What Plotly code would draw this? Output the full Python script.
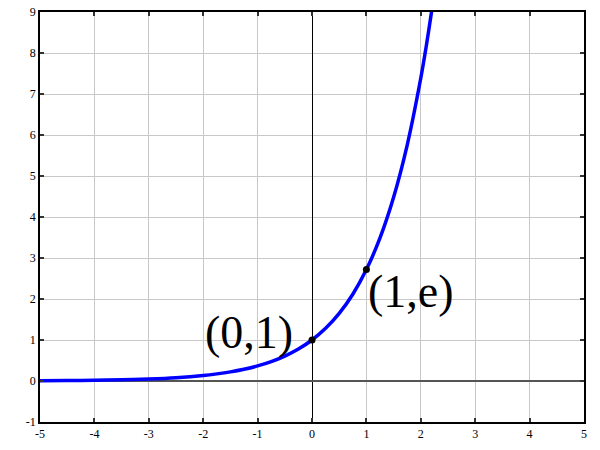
import plotly.graph_objects as go

# Curve points (y = e^x)
x_vals = [-5, -4.5, -4, -3.5, -3, -2.5, -2, -1.75, -1.5, -1.25, -1, -0.75, -0.5, -0.25,
          0, 0.25, 0.5, 0.75, 1, 1.25, 1.5, 1.75, 2, 2.1, 2.2]
y_vals = [0.007, 0.011, 0.018, 0.030, 0.050, 0.082, 0.135, 0.174, 0.223, 0.287, 0.368,
          0.472, 0.607, 0.779, 1.0, 1.284, 1.649, 2.117, 2.718, 3.490, 4.482, 5.755,
          7.389, 8.166, 9.025]

# Marked points
pt_x = [0, 1]
pt_y = [1, 2.718]
pt_labels = ["(0,1)", "(1,e)"]
label_x = [-1.16, 1.82]
label_y = [1.18, 2.18]

x_ticks = [-5, -4, -3, -2, -1, 0, 1, 2, 3, 4, 5]
y_ticks = [-1, 0, 1, 2, 3, 4, 5, 6, 7, 8, 9]

serif = "Liberation Serif"

fig = go.Figure()
fig.add_trace(go.Scatter(x=x_vals, y=y_vals, mode="lines",
                         line=dict(color="#0000ff", width=3.5, shape="spline"),
                         hoverinfo="skip", showlegend=False, cliponaxis=True))
fig.add_trace(go.Scatter(x=pt_x, y=pt_y, mode="markers",
                         marker=dict(color="black", size=7),
                         showlegend=False))

for lx, ly, t in zip(label_x, label_y, pt_labels):
    fig.add_annotation(x=lx, y=ly, text=t, showarrow=False,
                       xanchor="center", yanchor="middle",
                       font=dict(family=serif, size=46, color="black"))

axis_common = dict(showgrid=True, gridcolor="#c8c8c8", gridwidth=1,
                   showline=True, linecolor="black", linewidth=1.5, mirror="ticks",
                   ticks="inside", ticklen=4, tickcolor="#333333", tickwidth=1.5,
                   tickfont=dict(family=serif, size=12, color="black"),
                   zeroline=True, automargin=False)

fig.update_xaxes(range=[-5, 5], tickvals=x_ticks, ticktext=[str(v) for v in x_ticks],
                 zerolinecolor="black", zerolinewidth=1, **axis_common)
fig.update_yaxes(range=[-1, 9], tickvals=y_ticks, ticktext=[str(v) for v in y_ticks],
                 zerolinecolor="#555555", zerolinewidth=1.5, **axis_common)

fig.update_layout(width=600, height=450, margin=dict(l=40, r=16, t=12, b=28),
                  plot_bgcolor="white", paper_bgcolor="white", showlegend=False)

fig.write_html("out.html", config={"displayModeBar": False},
               post_script="document.body.style.margin='0';document.body.style.overflow='hidden';")
